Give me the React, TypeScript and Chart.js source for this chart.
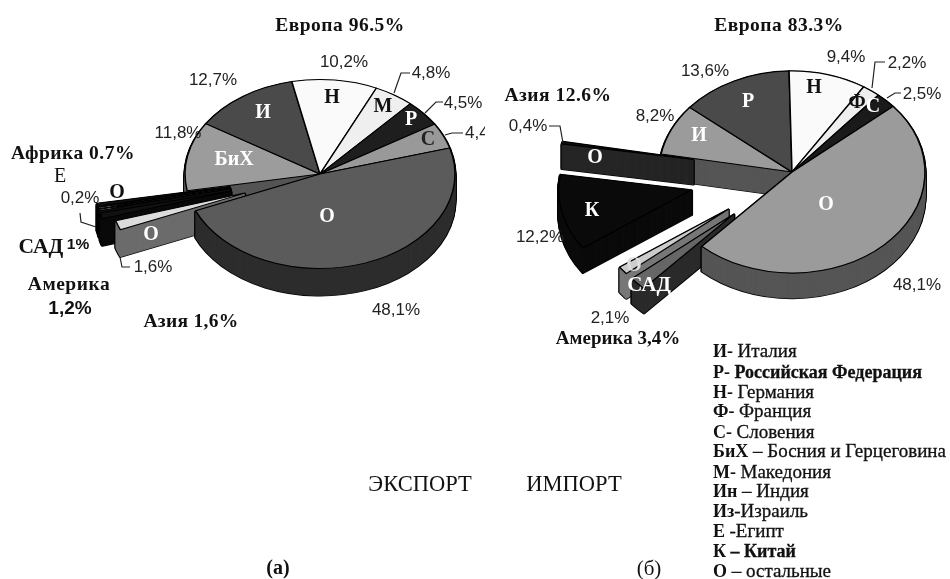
import React, { useEffect, useRef } from "react";
import { Chart, registerables } from "chart.js";

Chart.register(...registerables);

// ---- data ----
const exportCategories = ["О", "Азия О", "САД", "Америка О", "Е", "Африка О", "БиХ", "И", "Н", "М", "Р", "С"];
const exportValues = [48.1, 1.6, 1.0, 0.2, 0.2, 0.5, 11.8, 12.7, 10.2, 4.8, 4.5, 4.4];
const importCategories = ["О", "САД", "Америка О", "К", "Азия О", "И", "Р", "Н", "Ф", "С"];
const importValues = [48.1, 2.1, 1.3, 12.2, 0.4, 8.2, 13.6, 9.4, 2.2, 2.5];

// ---- styling ----
const exportTop = ["#5b5b5b", "#dcdcdc", "#111111", "#e8e8e8", "#e8e8e8", "#111111", "#9c9c9c", "#4a4a4a", "#fafafa", "#efefef", "#1e1e1e", "#999999"];
const exportWall = ["#2d2d2d", "#6c6c6c", "#0a0a0a", "#111111", "#111111", "#0a0a0a", "#555555", "#333333", "#999999", "#999999", "#111111", "#555555"];
const exportExplode = [0, 80, 92, 92, 92, 92, 0, 0, 0, 0, 0, 0];
const importTop = ["#9b9b9b", "#666666", "#cccccc", "#0a0a0a", "#111111", "#9b9b9b", "#4a4a4a", "#fafafa", "#eeeeee", "#1a1a1a"];
const importWall = ["#555555", "#2a2a2a", "#777777", "#0a0a0a", "#262626", "#555555", "#333333", "#999999", "#999999", "#111111"];
const importExplode = [0, 80, 80, 103, 100, 0, 0, 0, 0, 0];

const SERIF = '"Liberation Serif"';
const SANS = '"Liberation Sans"';
const HEAD = `bold 19.5px ${SERIF}`;
const B20 = `bold 20px ${SERIF}`;
const PCT = `17px ${SANS}`;

type T = [string, number, number, string, string, number?];
const exportTexts: T[] = [
  ["Европа 96.5%", 340, 26, HEAD, "#111", 0.5],
  ["10,2%", 344, 62, PCT, "#222"],
  ["4,8%", 431, 73, PCT, "#222"],
  ["4,5%", 463, 103, PCT, "#222"],
  ["12,7%", 213, 80, PCT, "#222"],
  ["11,8%", 178, 133, PCT, "#222"],
  ["Африка 0.7%", 73, 154, HEAD, "#111", 0.5],
  ["Е", 60, 177, `20px ${SERIF}`, "#111"],
  ["0,2%", 80, 198, PCT, "#222"],
  ["О", 117, 193, B20, "#111"],
  ["САД", 41, 247, `bold 21.5px ${SERIF}`, "#111"],
  ["1%", 78, 245, `bold 15.5px ${SANS}`, "#111"],
  ["Америка", 69, 285, HEAD, "#111", 0.5],
  ["1,2%", 70, 309, `bold 19px ${SANS}`, "#111"],
  ["Азия 1,6%", 191, 322, HEAD, "#111", 0.3],
  ["1,6%", 153, 267, PCT, "#222"],
  ["О", 151, 235, B20, "#fff"],
  ["БиХ", 234, 160, B20, "#fff"],
  ["И", 263, 113, B20, "#fff"],
  ["Н", 332, 98, B20, "#111"],
  ["М", 383, 107, B20, "#111"],
  ["Р", 411, 120, B20, "#fff"],
  ["С", 428, 140, B20, "#222"],
  ["О", 327, 217, B20, "#fff"],
  ["48,1%", 396, 310, PCT, "#222"],
  ["ЭКСПОРТ", 420, 485, `22.5px ${SERIF}`, "#111"],
  ["(а)", 278, 569, `bold 20px ${SERIF}`, "#111"],
];
const importTexts: T[] = [
  ["Европа 83.3%", 779, 26, HEAD, "#111", 0.5],
  ["9,4%", 846, 57, PCT, "#222"],
  ["2,2%", 907, 63, PCT, "#222"],
  ["2,5%", 922, 94, PCT, "#222"],
  ["Ф", 857, 103, B20, "#111"],
  ["С", 873, 107, B20, "#fff"],
  ["Н", 814, 88, B20, "#111"],
  ["Р", 748, 102, B20, "#fff"],
  ["И", 699, 136, B20, "#fff"],
  ["О", 826, 205, B20, "#fff"],
  ["48,1%", 917, 285, PCT, "#222"],
  ["13,6%", 705, 71, PCT, "#222"],
  ["8,2%", 655, 116, PCT, "#222"],
  ["Азия 12.6%", 558, 96, HEAD, "#111", 0.5],
  ["0,4%", 528, 126, PCT, "#222"],
  ["О", 595, 158, B20, "#fff"],
  ["К", 592, 211, B20, "#fff"],
  ["12,2%", 540, 237, PCT, "#222"],
  ["О", 634, 266, B20, "#ddd"],
  ["САД", 649, 286, `bold 21px ${SERIF}`, "#fff"],
  ["2,1%", 610, 318, PCT, "#222"],
  ["Америка 3,4%", 618, 339, `bold 19px ${SERIF}`, "#111"],
  ["ИМПОРТ", 574, 485, `22.5px ${SERIF}`, "#111"],
  ["(б)", 649, 569, `21px ${SERIF}`, "#111"],
];
const exportLeaders = [
  [[394, 93], [401, 73], [410, 73]],
  [[425, 113], [436, 102], [443, 102]],
  [[445, 135], [452, 133], [463, 133]],
  [[80, 213], [81, 222], [96, 227]],
  [[120, 257], [122, 267], [130, 267]],
];
const importLeaders = [
  [[872, 88], [875, 62], [885, 62]],
  [[887, 98], [895, 93], [901, 93]],
  [[549, 126], [560, 126], [563, 143]],
];
const legendLines: [string, string][] = [
  ["И- ", "Италия"],
  ["Р- ", "Российская Федерация"],
  ["Н- ", "Германия"],
  ["Ф- ", "Франция"],
  ["С- ", "Словения"],
  ["БиХ", " – Босния и Герцеговина"],
  ["М- ", "Македония"],
  ["Ин", " – Индия"],
  ["Из", "-Израиль"],
  ["Е ", "-Египт"],
  ["К", " – Китай"],
  ["О", " – остальные"],
];
const legendBoldRest = [false, true, false, false, false, false, false, false, false, false, true, false];
const legendY = [352, 373, 393, 412, 433, 452, 473, 492, 512, 532, 552, 572];

function piePlugin(cfg: any) {
  return {
    id: "pie3d",
    beforeDatasetsDraw(chart: any) {
      const ctx = chart.ctx;
      const arcs = chart.getDatasetMeta(0).data;
      const { cx, cy, k, depth, top, wall, explode } = cfg;
      const opts = (bg: string, bc: string, bw: number) => ({
        backgroundColor: bg,
        borderColor: bc,
        borderWidth: bw,
        borderAlign: "center",
        borderJoinStyle: "round",
        borderDash: [],
        borderDashOffset: 0,
        borderRadius: 0,
        circular: true,
        spacing: 0,
        offset: 0,
      });
      const drawAt = (i: number, d: number, o: any) => {
        const arc = arcs[i];
        const mid = (arc.startAngle + arc.endAngle) / 2;
        const e = explode[i];
        ctx.save();
        ctx.translate(cx, cy + d);
        ctx.scale(1, k);
        ctx.translate(Math.cos(mid) * e - cx, Math.sin(mid) * e - cy);
        const clone = Object.create(arc);
        clone.options = o;
        arc.draw.call(clone, ctx);
        ctx.restore();
      };
      const walls = (i: number) => {
        for (let d = depth; d >= 1; d--) drawAt(i, d, opts("#000", "#000", 3));
        for (let d = depth; d >= 1; d--) drawAt(i, d, opts(wall[i], wall[i], 1));
      };
      const face = (i: number) => drawAt(i, 0, opts(top[i], "#000", 1.5));
      const idx = arcs.map((_: any, i: number) => i);
      const seated = idx.filter((i: number) => i > 0 && !explode[i]);
      const flying = idx.filter((i: number) => explode[i]).reverse();
      // seated back slices: walls first so they never cover a neighbour's face;
      // the slice next to the gap is walled last so its radial wall stays whole
      seated.slice().reverse().forEach(walls);
      seated.forEach(face);
      // exploded slices, farthest first
      flying.forEach((i: number) => {
        walls(i);
        face(i);
      });
      // the largest slice lies in front of everything
      walls(0);
      face(0);
      return false;
    },
    afterDraw(chart: any) {
      const ctx = chart.ctx;
      ctx.save();
      ctx.strokeStyle = "#222";
      ctx.lineWidth = 1.2;
      for (const path of cfg.leaders) {
        ctx.beginPath();
        path.forEach(([x, y]: number[], n: number) => (n ? ctx.lineTo(x, y) : ctx.moveTo(x, y)));
        ctx.stroke();
      }
      ctx.textAlign = "center";
      ctx.textBaseline = "middle";
      for (const [s, x, y, font, color, spacing] of cfg.texts as T[]) {
        ctx.font = font;
        ctx.letterSpacing = `${spacing || 0}px`;
        ctx.fillStyle = color;
        ctx.fillText(s, x, y);
      }
      ctx.letterSpacing = "0px";
      ctx.restore();
      if (cfg.after) cfg.after(ctx);
    },
  };
}

function drawExportExtras(ctx: CanvasRenderingContext2D) {
  // the 4,4% label is cut off by the picture next to it
  ctx.save();
  ctx.beginPath();
  ctx.rect(460, 120, 25, 26);
  ctx.clip();
  ctx.font = PCT;
  ctx.fillStyle = "#222";
  ctx.textBaseline = "middle";
  ctx.fillText("4,4%", 465, 133);
  ctx.restore();
}

function drawLegend(ctx: CanvasRenderingContext2D) {
  ctx.save();
  ctx.textBaseline = "middle";
  ctx.fillStyle = "#111";
  ctx.strokeStyle = "#111";
  ctx.lineWidth = 0.3;
  legendLines.forEach(([a, b], i) => {
    ctx.font = `bold 18px ${SERIF}`;
    ctx.fillText(a, 713, legendY[i]);
    const w = ctx.measureText(a).width;
    ctx.font = legendBoldRest[i] ? `bold 18px ${SERIF}` : `19px ${SERIF}`;
    ctx.fillText(b, 713 + w, legendY[i]);
    ctx.strokeText(b, 713 + w, legendY[i]);
  });
  ctx.restore();
}

function makePie(canvas: HTMLCanvasElement, labels: string[], values: number[], top: string[], rotation: number, radius: number, padding: any, cfg: any) {
  return new Chart(canvas, {
    type: "pie",
    data: { labels, datasets: [{ data: values, backgroundColor: top }] },
    options: {
      responsive: false,
      animation: false,
      rotation,
      radius,
      layout: { padding },
      plugins: { legend: { display: false }, tooltip: { enabled: false } },
    } as any,
    plugins: [piePlugin({ ...cfg, top })],
  });
}

const canvasStyle: React.CSSProperties = {
  position: "absolute",
  left: 0,
  top: 0,
  display: "block",
  filter: "blur(0.45px)",
};

export default function App() {
  const a = useRef<HTMLCanvasElement>(null);
  const b = useRef<HTMLCanvasElement>(null);
  useEffect(() => {
    const c1 = makePie(a.current!, exportCategories, exportValues, exportTop, 74, 135,
      { left: 0, right: 310, top: 0, bottom: 231 },
      { cx: 320, cy: 174, k: 0.7, depth: 27, wall: exportWall, explode: exportExplode, texts: exportTexts, leaders: exportLeaders, after: drawExportExtras });
    const c2 = makePie(b.current!, importCategories, importValues, importTop, 49.5, 133,
      { left: 634, right: 0, top: 0, bottom: 235 },
      { cx: 792, cy: 172, k: 0.76, depth: 25, wall: importWall, explode: importExplode, texts: importTexts, leaders: importLeaders, after: drawLegend });
    return () => {
      c1.destroy();
      c2.destroy();
    };
  }, []);
  return (
    <div style={{ position: "absolute", left: 0, top: 0, width: 950, height: 579, overflow: "hidden", background: "#fff" }}>
      <canvas ref={a} width={950} height={579} style={canvasStyle} />
      <canvas ref={b} width={950} height={579} style={canvasStyle} />
    </div>
  );
}
